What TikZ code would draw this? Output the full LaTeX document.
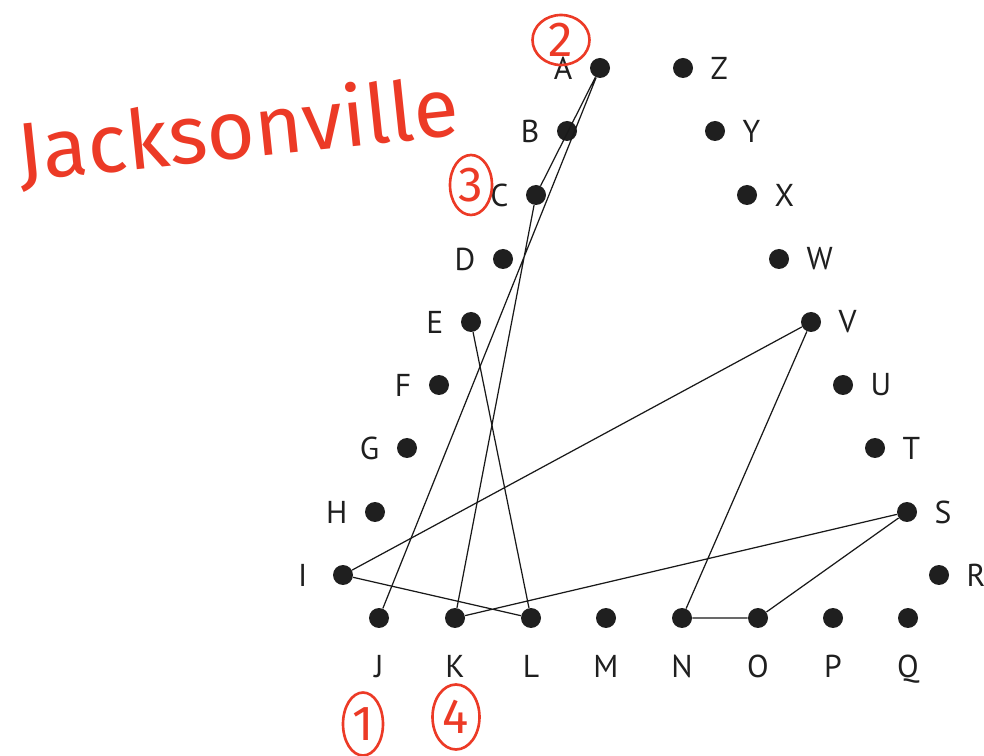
\documentclass[tikz,border=0pt]{standalone}
\usepackage{fontspec}
\setmainfont{PT Sans}
\newfontfamily\manoscritto{Fira Sans}
\usepackage{xcolor}
\usetikzlibrary{positioning,shapes.geometric}
\definecolor{rossopenna}{RGB}{236,58,38}
\tikzset{
  punto/.style={circle,fill=black!88,minimum size=0.4cm,inner sep=0pt},
  etichetta/.style={font=\fontsize{18}{20}\selectfont,text=black!88,inner sep=0pt},
  sx/.style={label={[etichetta,label distance=0.34cm]left:#1}},
  dx/.style={label={[etichetta,label distance=0.34cm]right:#1}},
  giu/.style={label={[etichetta,label distance=0.53cm]below:#1}},
  corda/.style={draw,line width=0.7pt,black!90},
  cerchiato/.style={draw=rossopenna,line width=1.5pt,ellipse,text=rossopenna,
    font=\manoscritto\fontsize{28}{28}\selectfont,inner sep=0pt}
}

\begin{document}
\begin{tikzpicture}[x=0.02cm,y=-0.02cm]
\useasboundingbox (0,0) rectangle (984,756);
% left side of the loop
\node[punto,sx=A] (A) at (600,68) {};
\node[punto,sx=B] (B) at (567,131) {};
\node[punto,sx=C] (C) at (536,195) {};
\node[punto,sx=D] (D) at (503,259) {};
\node[punto,sx=E] (E) at (471,322) {};
\node[punto,sx=F] (F) at (439,385) {};
\node[punto,sx=G] (G) at (407,448) {};
\node[punto,sx=H] (H) at (375,512) {};
\node[punto,label={[etichetta,label distance=0.5cm]left:I}] (I) at (343,575) {};
% bottom row
\node[punto,giu=J] (J) at (379,618) {};
\node[punto,giu=K] (K) at (455,618) {};
\node[punto,giu=L] (L) at (531,618) {};
\node[punto,giu=M] (M) at (606,618) {};
\node[punto,giu=N] (N) at (682,618) {};
\node[punto,giu=O] (O) at (758,618) {};
\node[punto,giu=P] (P) at (833,618) {};
\node[punto,giu=Q] (Q) at (908,618) {};
% right side
\node[punto,dx=R] (R) at (939,575) {};
\node[punto,dx=S] (S) at (907,512) {};
\node[punto,dx=T] (T) at (875,448) {};
\node[punto,dx=U] (U) at (843,385) {};
\node[punto,dx=V] (V) at (811,322) {};
\node[punto,dx=W] (W) at (779,259) {};
\node[punto,dx=X] (X) at (747,195) {};
\node[punto,dx=Y] (Y) at (715,131) {};
\node[punto,dx=Z] (Z) at (683,68) {};

\draw[corda] (J) -- (A) -- (C) -- (K);
\draw[corda] (E) -- (L) -- (I) -- (V) -- (N) -- (O) -- (S) -- (K);

% handwritten notes
\node[text=rossopenna,font=\manoscritto\fontsize{47}{47}\selectfont,rotate=6,inner sep=0pt] (citta) at (238,132) {Jacksonville};
\node[cerchiato,minimum width=0.8cm,minimum height=1.26cm] (n1) at (363,724) {1};
\node[cerchiato,minimum width=1.14cm,minimum height=1.0cm] (n2) at (561,40) {2};
\node[cerchiato,minimum width=0.84cm,minimum height=1.2cm] (n3) at (471,185) {3};
\node[cerchiato,minimum width=0.94cm,minimum height=1.3cm] (n4) at (456,717) {4};
\end{tikzpicture}
\end{document}
